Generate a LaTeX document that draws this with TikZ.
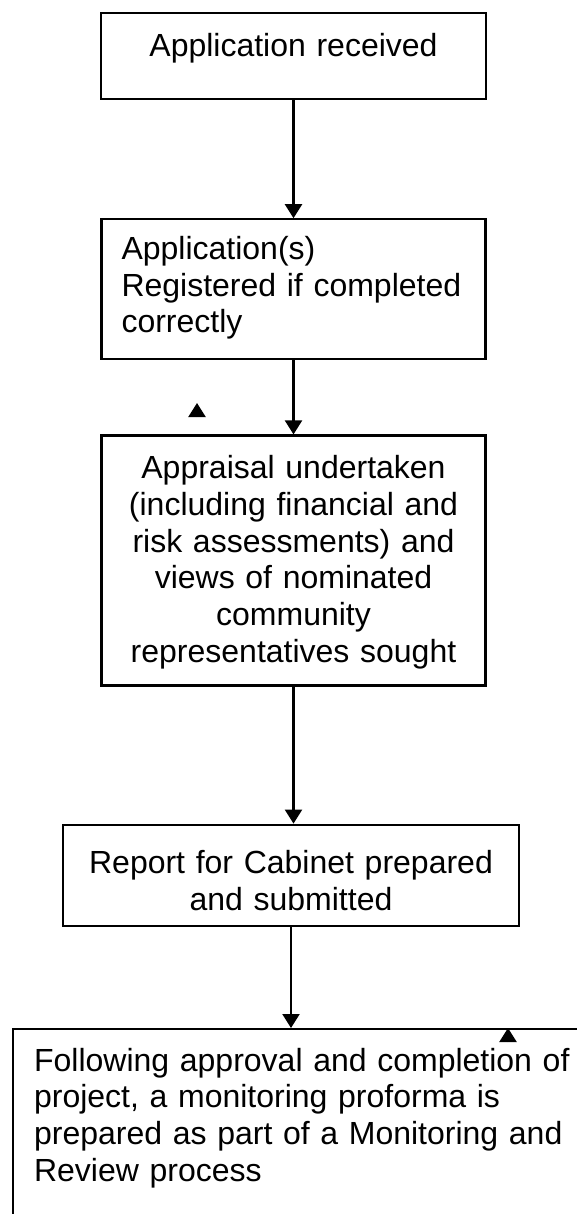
\documentclass[tikz,border=0pt]{standalone}
\usepackage{fontspec}
\setmainfont{Liberation Sans}
\usepackage{tikz}
\usetikzlibrary{arrows.meta, positioning}

\begin{document}
\begin{tikzpicture}[
    node distance=37pt,
    box/.style={rectangle, draw, line width=1.1pt, inner xsep=10pt, inner ysep=0pt, font=\fontsize{16pt}{18.4pt}\selectfont},
    arrow/.style={-{Triangle[length=7pt, width=8.5pt]}, line width=1.1pt}
]

% Page frame
\useasboundingbox (0,0) rectangle (288.5pt,-607pt);
\clip (0,0) rectangle (288.5pt,-607pt);

% Application received
\node[box, anchor=north, text width=172.5pt, align=center, text height=21.5pt, text depth=21.5pt] (recv) at (146.75pt,-6pt) {Application received};

% Registration
\node[box, below=59pt of recv, text width=172pt, align=left, text height=20pt, text depth=50pt] (register) {Application(s)\\Registered if completed\\correctly};

% Appraisal
\node[box, below=37pt of register, text width=172pt, align=center, text height=21.5pt, text depth=103.5pt] (appraise) {Appraisal undertaken\\(including financial and\\risk assessments) and\\views of nominated\\community\\representatives sought};

% Cabinet report
\node[box, below=68.5pt of appraise, xshift=-1.25pt, text width=208pt, align=center, text height=24.5pt, text depth=26pt] (cabinet) {Report for Cabinet prepared\\and submitted};

% Monitoring
\node[box, anchor=north west, inner xsep=10.5pt, text width=300pt, align=left, text height=21pt, text depth=110pt] (monitor) at (6pt,-514pt) {Following approval and completion of\\project, a monitoring proforma is\\prepared as part of a Monitoring and\\Review process};

% Loose arrow heads
\coordinate (strayA) at (98.5pt,-208.5pt);
\coordinate (strayAtip) at (98.5pt,-201.5pt);
\coordinate (strayB) at (254pt,-521pt);
\coordinate (strayBtip) at (254pt,-514pt);

% Arrows
\draw[arrow] (recv) -- (register);
\draw[arrow] (register) -- (appraise);
\draw[arrow] (appraise.south) -- (appraise.south |- cabinet.north);
\draw[arrow] (cabinet.south) -- (cabinet.south |- monitor.north);
\draw[arrow] (strayA) -- (strayAtip);
\draw[arrow] (strayB) -- (strayBtip);

\end{tikzpicture}
\end{document}
